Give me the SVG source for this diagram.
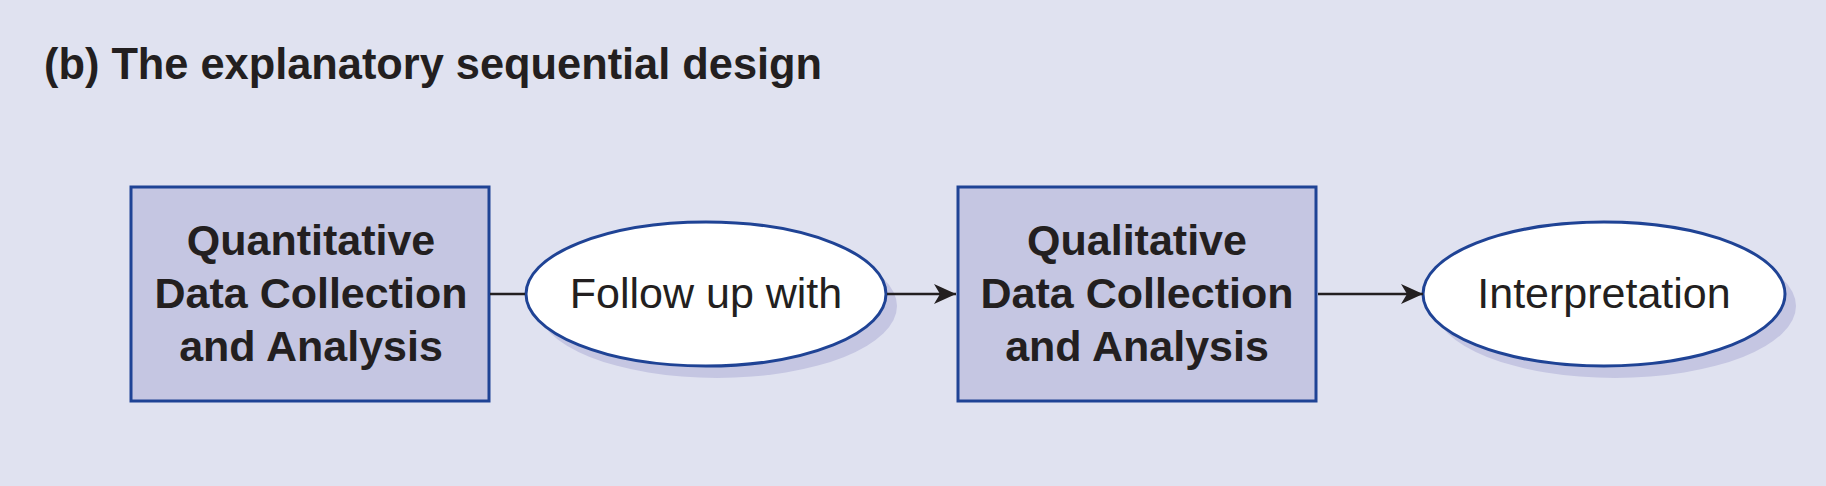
<svg xmlns="http://www.w3.org/2000/svg" width="1826" height="486" viewBox="0 0 1826 486">
<style>
.box{fill:#c5c6e2;stroke:#1f4395;stroke-width:3}
.ell{fill:#ffffff;stroke:#1f4395;stroke-width:3}
.shadow{fill:#c5c6e2;stroke:none}
.bt{font-family:"Liberation Sans",Arial,sans-serif;font-weight:bold;font-size:43px;fill:#231f20;text-anchor:middle}
.et{font-family:"Liberation Sans",Arial,sans-serif;font-size:43px;fill:#231f20;text-anchor:middle}
.title{font-family:"Liberation Sans",Arial,sans-serif;font-weight:bold;font-size:44px;fill:#231f20}
.conn{stroke:#231f20;stroke-width:2.5;fill:none}
</style>
<defs>
<marker id="arr" markerWidth="24" markerHeight="22" refX="22" refY="11" orient="auto" markerUnits="userSpaceOnUse">
<path d="M0,1 L22,11 L0,21 L6,11 Z" fill="#231f20"/>
</marker>
</defs>
<rect x="0" y="0" width="1826" height="486" fill="#e0e2f0"/>
<text class="title" x="44" y="79" textLength="778" lengthAdjust="spacingAndGlyphs">(b) The explanatory sequential design</text>
<g id="node-quant">
<rect class="box" x="131" y="187" width="358" height="214"/>
<text class="bt" x="311" y="255">Quantitative</text>
<text class="bt" x="311" y="308">Data Collection</text>
<text class="bt" x="311" y="361">and Analysis</text>
</g>
<g id="node-follow">
<ellipse class="shadow" cx="717" cy="306" rx="180" ry="72"/>
<ellipse class="ell" cx="706" cy="294" rx="180" ry="72"/>
<text class="et" x="706" y="308">Follow up with</text>
</g>
<g id="node-qual">
<rect class="box" x="958" y="187" width="358" height="214"/>
<text class="bt" x="1137" y="255">Qualitative</text>
<text class="bt" x="1137" y="308">Data Collection</text>
<text class="bt" x="1137" y="361">and Analysis</text>
</g>
<g id="node-interp">
<ellipse class="shadow" cx="1615" cy="306" rx="181" ry="72"/>
<ellipse class="ell" cx="1604" cy="294" rx="181" ry="72"/>
<text class="et" x="1604" y="308">Interpretation</text>
</g>
<g id="connectors">
<line class="conn" x1="490" y1="294" x2="525" y2="294"/>
<line class="conn" x1="887" y1="294" x2="956" y2="294" marker-end="url(#arr)"/>
<line class="conn" x1="1318" y1="294" x2="1423" y2="294" marker-end="url(#arr)"/>
</g>
</svg>
